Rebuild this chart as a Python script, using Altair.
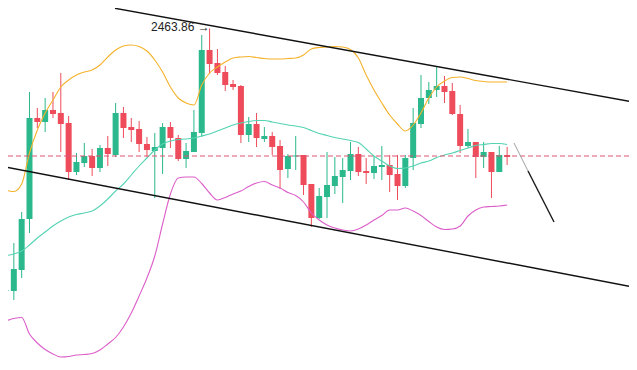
import altair as alt
import pandas as pd

# candle index (position along the time axis)
bar_index = list(range(-1, 65))

opens = [2438.4, 2437.65, 2437.6, 2439.7, 2444.8, 2454.9, 2454.5, 2455.7, 2455.4, 2454.4,
         2449.5, 2450.4, 2451.1, 2449.9, 2451.9, 2451.2, 2455.4, 2454.0, 2453.8, 2452.3,
         2451.6, 2451.9, 2454.0, 2452.9, 2450.8, 2451.5, 2453.4, 2461.7, 2460.4, 2459.5,
         2458.3, 2458.1, 2453.2, 2454.3, 2452.8, 2453.1, 2452.1, 2449.8, 2451.05, 2451.2,
         2448.3, 2444.9, 2447.0, 2448.1, 2449.0, 2449.6, 2451.3, 2449.6, 2449.4, 2450.0,
         2450.2, 2449.3, 2448.1, 2450.9, 2454.3, 2456.9, 2457.7, 2458.1, 2457.6, 2455.3,
         2452.1, 2452.5, 2451.0, 2451.5, 2449.5, 2451.2]
closes = [2437.8, 2437.7, 2439.8, 2444.8, 2454.9, 2454.5, 2455.7, 2455.3, 2454.3, 2449.5,
          2450.5, 2451.1, 2449.9, 2451.9, 2451.3, 2455.4, 2453.9, 2453.7, 2452.3, 2451.7,
          2452.0, 2454.0, 2452.9, 2450.8, 2451.6, 2453.5, 2461.7, 2460.3, 2459.4, 2458.2,
          2458.0, 2453.2, 2454.3, 2452.9, 2453.1, 2452.0, 2449.7, 2451.1, 2451.15, 2448.2,
          2444.9, 2447.1, 2448.2, 2449.1, 2449.7, 2451.3, 2449.5, 2449.4, 2450.1, 2450.2,
          2449.2, 2448.1, 2450.9, 2454.4, 2456.9, 2457.7, 2458.1, 2457.5, 2455.3, 2452.1,
          2452.5, 2451.0, 2451.5, 2449.5, 2451.2, 2451.0]
highs = [2438.6, 2438.0, 2442.4, 2445.5, 2457.5, 2455.9, 2456.9, 2457.5, 2459.4, 2455.1,
         2451.4, 2452.4, 2451.8, 2452.2, 2453.1, 2456.4, 2456.0, 2454.9, 2454.6, 2453.0,
         2453.4, 2454.4, 2454.5, 2453.2, 2452.4, 2455.7, 2463.2, 2463.86, 2461.8, 2460.1,
         2458.7, 2458.2, 2455.0, 2455.4, 2454.0, 2453.5, 2452.7, 2451.3, 2453.1, 2451.2,
         2448.3, 2447.9, 2451.5, 2451.0, 2450.9, 2452.5, 2452.0, 2450.9, 2451.1, 2452.1,
         2451.2, 2451.2, 2451.2, 2455.9, 2459.2, 2458.5, 2460.0, 2459.1, 2458.4, 2456.2,
         2453.8, 2452.5, 2452.5, 2451.5, 2452.1, 2452.0]
lows = [2437.6, 2437.1, 2436.7, 2438.9, 2443.4, 2453.9, 2453.5, 2454.9, 2451.5, 2448.7,
        2449.2, 2450.0, 2449.1, 2449.5, 2450.1, 2451.0, 2452.9, 2452.5, 2451.5, 2451.0,
        2446.9, 2449.3, 2451.9, 2450.6, 2449.9, 2451.5, 2453.0, 2459.3, 2459.2, 2457.6,
        2457.7, 2452.4, 2452.5, 2452.0, 2452.5, 2451.2, 2447.8, 2448.9, 2449.7, 2447.2,
        2444.0, 2444.8, 2444.9, 2447.3, 2446.4, 2448.7, 2449.1, 2448.3, 2448.8, 2448.7,
        2447.5, 2446.7, 2447.9, 2449.7, 2453.9, 2456.3, 2457.0, 2456.4, 2455.2, 2451.4,
        2451.9, 2448.9, 2449.9, 2446.9, 2449.5, 2450.2]

bb_upper = [2447.7, 2447.65, 2447.55, 2448.3, 2451.4, 2453.7, 2455.4, 2456.7, 2458.0, 2458.7,
            2459.2, 2459.5, 2459.7, 2460.2, 2461.0, 2461.7, 2462.1, 2462.2, 2462.05, 2461.6,
            2460.7, 2459.5, 2458.0, 2456.9, 2456.4, 2456.2, 2458.2, 2459.4, 2460.0, 2460.5,
            2460.9, 2461.0, 2461.05, 2460.95, 2460.85, 2460.8, 2460.8, 2460.85, 2460.9, 2461.2,
            2461.8, 2461.95, 2462.0, 2462.05, 2462.0, 2461.75, 2460.9, 2459.2, 2457.7, 2456.4,
            2455.2, 2454.3, 2453.6, 2454.2, 2455.4, 2456.9, 2458.0, 2458.6, 2458.95, 2459.0,
            2458.85, 2458.65, 2458.55, 2458.5, 2458.5, 2458.5]
bb_middle = [2441.1, 2441.15, 2441.3, 2441.6, 2442.2, 2442.9, 2443.5, 2444.1, 2444.6, 2445.0,
             2445.25, 2445.4, 2445.6, 2446.1, 2446.8, 2447.6, 2448.3, 2449.2, 2450.1, 2450.9,
             2451.7, 2452.3, 2452.6, 2452.75, 2452.8, 2452.9, 2453.1, 2453.3, 2453.6, 2453.9,
             2454.2, 2454.4, 2454.55, 2454.65, 2454.65, 2454.5, 2454.35, 2454.2, 2454.1, 2453.95,
             2453.65, 2453.35, 2453.15, 2452.95, 2452.8, 2452.65, 2452.45, 2451.8, 2451.1, 2450.6,
             2450.1, 2449.85, 2449.9, 2450.1, 2450.4, 2450.6, 2450.95, 2451.2, 2451.4, 2451.65,
             2451.9, 2452.15, 2452.25, 2452.35, 2452.35, 2452.25]
bb_lower = [2434.6, 2434.65, 2434.85, 2434.95, 2433.3, 2432.4, 2431.75, 2431.3, 2431.0, 2431.05,
            2431.2, 2431.25, 2431.35, 2431.7, 2432.3, 2432.95, 2434.0, 2435.4, 2437.1, 2438.9,
            2441.1, 2444.3, 2447.3, 2448.9, 2449.0, 2449.0, 2448.35, 2447.4, 2446.7, 2446.95,
            2447.3, 2447.6, 2448.05, 2448.4, 2448.55, 2448.2, 2447.9, 2447.45, 2447.15, 2446.5,
            2445.4, 2444.7, 2444.2, 2443.9, 2443.7, 2443.6, 2443.8, 2444.2, 2444.7, 2445.15,
            2445.7, 2445.7, 2445.9, 2445.6, 2445.15, 2444.55, 2444.0, 2443.75, 2443.8, 2444.1,
            2445.1, 2445.7, 2446.0, 2446.05, 2446.1, 2446.2]

# drawn annotations
peak_value = 2463.86
peak_label_x = 18.52
peak_label_y = 2464.0
dashed_level = 2451.1
upper_channel_x = [13.92, 82.25]
upper_channel_y = [2465.87, 2456.19]
lower_channel_x = [-2.04, 82.25]
lower_channel_y = [2450.29, 2437.68]
arrow_light_x = [64.88, 66.67]
arrow_light_y = [2452.4, 2449.6]
arrow_dark_x = [66.67, 69.99]
arrow_dark_y = [2449.6, 2444.5]

GREEN = "#2bb88c"
RED = "#ee4b5b"

df = pd.DataFrame({
    "i": bar_index, "open": opens, "close": closes, "high": highs, "low": lows,
    "up": bb_upper, "mid": bb_middle, "lo": bb_lower,
})
df["dir"] = ["up" if c >= o else "down" for o, c in zip(opens, closes)]

xs = alt.Scale(domain=[0.2554, 79.566], nice=False, zero=False, padding=0)
ys = alt.Scale(domain=[2430.5, 2465.9], nice=False, zero=False, padding=0)
X = alt.X("i:Q", scale=xs, axis=None)
col = alt.Color("dir:N", scale=alt.Scale(domain=["up", "down"], range=[GREEN, RED]), legend=None)

base = alt.Chart(df)
wicks = base.mark_rule(strokeWidth=1, clip=True).encode(
    x=X, y=alt.Y("low:Q", scale=ys, axis=None), y2="high:Q", color=col)
bodies = base.mark_bar(size=6, clip=True).encode(
    x=X, y=alt.Y("open:Q", scale=ys, axis=None), y2="close:Q", color=col)

def band(field, color):
    return base.mark_line(strokeWidth=1.1, color=color, interpolate="monotone", clip=True).encode(
        x=X, y=alt.Y(f"{field}:Q", scale=ys, axis=None))

upper_line = band("up", "#f5b22a")
mid_line = band("mid", "#55d3b3")
low_line = band("lo", "#dc5ec9")

def seg(xv, yv, color, width):
    d = pd.DataFrame({"x": xv, "y": yv})
    return alt.Chart(d).mark_line(color=color, strokeWidth=width, clip=True).encode(
        x=alt.X("x:Q", scale=xs, axis=None), y=alt.Y("y:Q", scale=ys, axis=None))

ch_up = seg(upper_channel_x, upper_channel_y, "#111111", 1.4)
ch_lo = seg(lower_channel_x, lower_channel_y, "#111111", 1.4)
arr1 = seg(arrow_light_x, arrow_light_y, "#a0a0a0", 1)
arr2 = seg(arrow_dark_x, arrow_dark_y, "#1a1a1a", 1.4)

dash = alt.Chart(pd.DataFrame({"lvl": [dashed_level]})).mark_rule(
    color="#dc5470", strokeWidth=1, strokeDash=[5, 3], clip=True).encode(
    y=alt.Y("lvl:Q", scale=ys, axis=None))

label = alt.Chart(pd.DataFrame({"x": [peak_label_x], "y": [peak_label_y],
                                "t": [f"{peak_value:.2f} \u2192"]})).mark_text(
    align="left", baseline="middle", fontSize=12, font="Liberation Sans", color="#222222").encode(
    x=alt.X("x:Q", scale=xs, axis=None), y=alt.Y("y:Q", scale=ys, axis=None), text="t:N")

chart = alt.layer(wicks, bodies, upper_line, mid_line, low_line, dash, ch_up, ch_lo, arr1, arr2, label).properties(
    width=621, height=354, padding=0, autosize=alt.AutoSizeParams(type="none")
).configure_view(stroke=None)

chart.save("out.html", embed_options={"renderer": "svg", "actions": False})
